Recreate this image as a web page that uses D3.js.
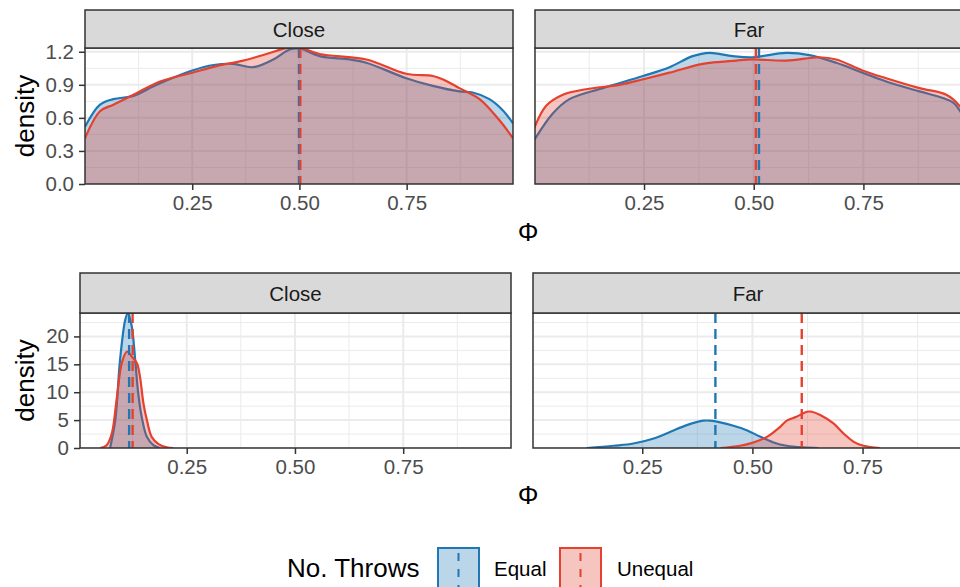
<!DOCTYPE html>
<html>
<head>
<meta charset="utf-8">
<script src="https://cdn.jsdelivr.net/npm/d3@7"></script>
<style>
  body { margin: 0; background: #fff; }
  svg { font-family: "Liberation Sans", Arial, sans-serif; display: block; }
</style>
</head>
<body>
<div class="container"></div>
<script>
// data: [phi, density]
const groups = ["Equal", "Unequal"];
const facets = ["Close", "Far"];
const xTicks = [0.25, 0.5, 0.75];
const xMinor = [0.125, 0.375, 0.625, 0.875];

// top plot
const topCloseEqual = [[0,0.52],[0.035,0.72],[0.066,0.77],[0.113,0.80],[0.167,0.90],[0.25,1.03],[0.30,1.08],[0.345,1.09],[0.392,1.06],[0.439,1.13],[0.477,1.22],[0.5,1.23],[0.547,1.16],[0.617,1.13],[0.656,1.10],[0.749,0.96],[0.811,0.89],[0.873,0.84],[0.904,0.83],[0.943,0.77],[0.974,0.67],[0.998,0.55]];
const topCloseUnequal = [[0,0.415],[0.035,0.66],[0.066,0.72],[0.113,0.81],[0.175,0.93],[0.25,1.01],[0.307,1.07],[0.369,1.12],[0.423,1.18],[0.477,1.24],[0.5,1.24],[0.547,1.18],[0.656,1.13],[0.749,1.00],[0.811,0.98],[0.834,0.95],[0.873,0.87],[0.92,0.77],[0.966,0.58],[0.998,0.415]];
const topFarEqual = [[0,0.40],[0.042,0.64],[0.08,0.77],[0.156,0.87],[0.248,0.98],[0.308,1.06],[0.361,1.16],[0.399,1.19],[0.452,1.16],[0.498,1.15],[0.574,1.19],[0.627,1.17],[0.688,1.10],[0.748,1.01],[0.802,0.93],[0.878,0.84],[0.931,0.78],[0.954,0.74],[0.969,0.67],[0.99,0.52]];
const topFarUnequal = [[0,0.51],[0.027,0.71],[0.065,0.81],[0.118,0.86],[0.194,0.90],[0.248,0.95],[0.308,1.01],[0.384,1.09],[0.46,1.12],[0.498,1.13],[0.574,1.12],[0.65,1.15],[0.688,1.13],[0.748,1.03],[0.802,0.96],[0.878,0.87],[0.939,0.81],[0.969,0.71],[0.99,0.56]];
const topMeans = { Close: [0.499, 0.502], Far: [0.512, 0.505] };

// bottom plot
const bottomCloseEqual = [[0.073,0],[0.085,5],[0.096,15.8],[0.108,23],[0.114,24.2],[0.123,21.8],[0.131,15.8],[0.138,9.8],[0.146,5.6],[0.158,2],[0.173,0.5],[0.188,0]];
const bottomCloseUnequal = [[0.05,0],[0.065,0.5],[0.077,2.6],[0.088,8.6],[0.1,15.2],[0.112,17.3],[0.123,16.4],[0.135,15.2],[0.142,12.8],[0.15,8],[0.158,5],[0.169,2],[0.185,0.7],[0.204,0.1],[0.219,0]];
const bottomFarEqual = [[0.124,0],[0.185,0.4],[0.23,0.8],[0.276,1.7],[0.314,2.9],[0.351,4.1],[0.389,4.9],[0.404,4.9],[0.427,4.6],[0.457,4.0],[0.487,3.2],[0.518,2.0],[0.548,1.0],[0.578,0.4],[0.616,0.1],[0.65,0]];
const bottomFarUnequal = [[0.427,0],[0.472,0.4],[0.502,1.0],[0.533,2.0],[0.563,3.8],[0.578,4.9],[0.6,5.6],[0.624,6.5],[0.635,6.5],[0.654,5.9],[0.684,4.4],[0.707,2.6],[0.73,1.1],[0.752,0.4],[0.79,0]];
const bottomMeans = { Close: [0.117, 0.125], Far: [0.416, 0.612] };

const topYTicks = [0, 0.3, 0.6, 0.9, 1.2];
const topYMinor = [0.15, 0.45, 0.75, 1.05];
const bottomYTicks = [0, 5, 10, 15, 20];
const bottomYMinor = [2.5, 7.5, 12.5, 17.5, 22.5];

const colors = { Equal: "#1f78b4", Unequal: "#e6402e" };

const width = 960;
const height = 587;

const rows = [
  {
    stripTop: 10, top: 48, bottom: 184, yMax: 1.234,
    yTicks: topYTicks, yMinor: topYMinor, yFmt: d3.format(".1f"),
    xLabelY: 232,
    panels: [
      { facet: "Close", left: 85, right: 513, domain: [0, 0.998],
        curves: [topCloseEqual, topCloseUnequal], means: topMeans.Close },
      { facet: "Far", left: 535, right: 963, domain: [0.0015, 0.977],
        curves: [topFarEqual, topFarUnequal], means: topMeans.Far },
    ],
  },
  {
    stripTop: 273, top: 313, bottom: 448, yMax: 24.2,
    yTicks: bottomYTicks, yMinor: bottomYMinor, yFmt: d3.format("d"),
    xLabelY: 495,
    panels: [
      { facet: "Close", left: 80, right: 511, domain: [0.0035, 0.999],
        curves: [bottomCloseEqual, bottomCloseUnequal], means: bottomMeans.Close },
      { facet: "Far", left: 533, right: 963, domain: [0.002, 0.978],
        curves: [bottomFarEqual, bottomFarUnequal], means: bottomMeans.Far },
    ],
  },
];

const svg = d3.select(".container")
  .append("svg")
  .attr("width", width)
  .attr("height", height);

rows.forEach((row, ri) => {
  const y = d3.scaleLinear().domain([0, row.yMax]).range([row.bottom, row.top]);

  row.panels.forEach((p, pi) => {
    const x = d3.scaleLinear().domain(p.domain).range([p.left, p.right]);
    const g = svg.append("g");
    const clipId = `clip-${ri}-${pi}`;

    g.append("clipPath").attr("id", clipId)
      .append("rect")
      .attr("x", p.left).attr("y", row.top)
      .attr("width", p.right - p.left).attr("height", row.bottom - row.top);

    // background grid
    const grid = g.append("g").attr("clip-path", `url(#${clipId})`);
    grid.selectAll("line.minx").data(xMinor).join("line")
      .attr("x1", x).attr("x2", x).attr("y1", row.top).attr("y2", row.bottom)
      .attr("stroke", "#ebebeb").attr("stroke-width", 1);
    grid.selectAll("line.miny").data(row.yMinor).join("line")
      .attr("x1", p.left).attr("x2", p.right).attr("y1", y).attr("y2", y)
      .attr("stroke", "#ebebeb").attr("stroke-width", 1);
    grid.selectAll("line.majx").data(xTicks).join("line")
      .attr("x1", x).attr("x2", x).attr("y1", row.top).attr("y2", row.bottom)
      .attr("stroke", "#ebebeb").attr("stroke-width", 2);
    grid.selectAll("line.majy").data(row.yTicks).join("line")
      .attr("x1", p.left).attr("x2", p.right).attr("y1", y).attr("y2", y)
      .attr("stroke", "#ebebeb").attr("stroke-width", 2);

    // densities
    const area = d3.area()
      .x((d) => x(d[0]))
      .y0(y(0))
      .y1((d) => y(d[1]))
      .curve(d3.curveCatmullRom.alpha(0.5));
    const line = area.lineY1();

    const marks = g.append("g").attr("clip-path", `url(#${clipId})`);
    p.curves.forEach((c, i) => {
      const col = colors[groups[i]];
      marks.append("path").datum(c)
        .attr("d", area)
        .attr("fill", col).attr("fill-opacity", 0.3);
      marks.append("path").datum(c)
        .attr("d", line)
        .attr("fill", "none").attr("stroke", col).attr("stroke-width", 2.2);
    });

    // means
    marks.selectAll("line.mean").data(p.means).join("line")
      .attr("x1", (d) => x(d)).attr("x2", (d) => x(d))
      .attr("y1", row.top).attr("y2", row.bottom)
      .attr("stroke", (d, i) => colors[groups[i]])
      .attr("stroke-width", 2.4)
      .attr("stroke-dasharray", "10,6");

    // border
    g.append("rect")
      .attr("x", p.left).attr("y", row.top)
      .attr("width", p.right - p.left).attr("height", row.bottom - row.top)
      .attr("fill", "none").attr("stroke", "#333").attr("stroke-width", 1.5);

    // strip
    g.append("rect")
      .attr("x", p.left).attr("y", row.stripTop)
      .attr("width", p.right - p.left).attr("height", row.top - row.stripTop)
      .attr("fill", "#d9d9d9").attr("stroke", "#333").attr("stroke-width", 1.5);
    g.append("text")
      .attr("x", (p.left + p.right) / 2).attr("y", (row.stripTop + row.top) / 2)
      .attr("text-anchor", "middle").attr("dominant-baseline", "central")
      .attr("font-size", 20.5).attr("fill", "#1a1a1a")
      .text(p.facet);

    // x axis
    const xAxis = g.append("g")
      .attr("transform", `translate(0,${row.bottom})`)
      .call(d3.axisBottom(x).tickValues(xTicks).tickSize(6).tickPadding(5)
        .tickFormat(d3.format(".2f")));
    xAxis.select(".domain").remove();
    xAxis.selectAll("line").attr("stroke", "#333").attr("stroke-width", 1.5);
    xAxis.selectAll("text").attr("font-size", 20.5).attr("fill", "#4d4d4d")
      .attr("font-family", "Liberation Sans, Arial, sans-serif");

    if (pi === 0) {
      const yAxis = g.append("g")
        .attr("transform", `translate(${p.left},0)`)
        .call(d3.axisLeft(y).tickValues(row.yTicks).tickSize(6).tickPadding(5)
          .tickFormat(row.yFmt));
      yAxis.select(".domain").remove();
      yAxis.selectAll("line").attr("stroke", "#333").attr("stroke-width", 1.5);
      yAxis.selectAll("text").attr("font-size", 20.5).attr("fill", "#4d4d4d")
        .attr("font-family", "Liberation Sans, Arial, sans-serif");

      svg.append("text")
        .attr("transform", `translate(25,${(row.top + row.bottom) / 2}) rotate(-90)`)
        .attr("text-anchor", "middle").attr("dominant-baseline", "central")
        .attr("font-size", 26).attr("fill", "#000")
        .text("density");
    }
  });

  svg.append("text")
    .attr("x", 528).attr("y", row.xLabelY)
    .attr("text-anchor", "middle").attr("dominant-baseline", "central")
    .attr("font-size", 26).attr("fill", "#000")
    .text("Φ");
});

// legend
const legend = svg.append("g");
legend.append("text")
  .attr("x", 287).attr("y", 568)
  .attr("dominant-baseline", "central")
  .attr("font-size", 26).attr("fill", "#000")
  .text("No. Throws");

const keyX = [438, 560];
const labelX = [494, 617];
groups.forEach((grp, i) => {
  const k = legend.append("g");
  k.append("rect")
    .attr("x", keyX[i]).attr("y", 548)
    .attr("width", 41).attr("height", 42)
    .attr("fill", colors[grp]).attr("fill-opacity", 0.3)
    .attr("stroke", colors[grp]).attr("stroke-width", 2);
  k.append("line")
    .attr("x1", keyX[i] + 20.5).attr("x2", keyX[i] + 20.5)
    .attr("y1", 548).attr("y2", 590)
    .attr("stroke", colors[grp]).attr("stroke-width", 2)
    .attr("stroke-dasharray", "8,8").attr("stroke-dashoffset", -5);
  k.append("text")
    .attr("x", labelX[i]).attr("y", 568)
    .attr("dominant-baseline", "central")
    .attr("font-size", 20.5).attr("fill", "#000")
    .text(grp);
});
</script>
</body>
</html>
